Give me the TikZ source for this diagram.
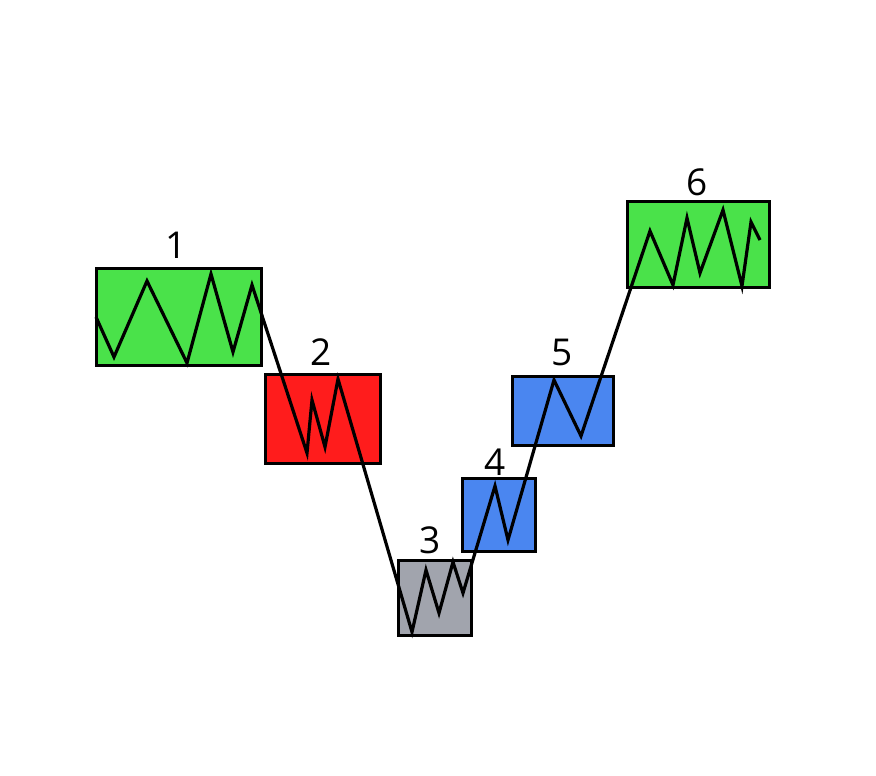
\documentclass[tikz,border=0pt]{standalone}
\usepackage{fontspec}
\setmainfont{Open Sans}
\usepackage{tikz}
\usetikzlibrary{positioning}
\definecolor{verde}{HTML}{4AE24A}
\definecolor{rojo}{HTML}{FF1C1C}
\definecolor{gris}{HTML}{A1A4AD}
\definecolor{azul}{HTML}{4A86F0}

\begin{document}
\begin{tikzpicture}[
  x=1pt, y=-1pt,
  caja/.style={draw=black, line width=3pt, inner sep=0pt},
  num/.style={font=\fontsize{37}{37}\selectfont, inner sep=0pt},
  zigzag/.style={line width=3.2pt, line join=miter, black}
]
  \useasboundingbox (0,0) rectangle (876,776);
  % cajas
  \node[caja, fill=verde, minimum width=165pt, minimum height=97pt] (b1) at (178.5,316.5) {};
  \node[caja, fill=rojo,  minimum width=115pt, minimum height=89pt] (b2) at (322.5,418.5) {};
  \node[caja, fill=gris,  minimum width=73pt,  minimum height=75pt] (b3) at (434.5,597.5) {};
  \node[caja, fill=azul,  minimum width=73pt,  minimum height=73pt] (b4) at (498.5,514.5) {};
  \node[caja, fill=azul,  minimum width=101pt, minimum height=69pt] (b5) at (563,410.5) {};
  \node[caja, fill=verde, minimum width=142pt, minimum height=86pt] (b6) at (698,244) {};
  % numeros
  \node[num] (n1) at (176,245) {1};
  \node[num] (n2) at (321,352) {2};
  \node[num] (n3) at (430,540) {3};
  \node[num] (n4) at (495,462) {4};
  \node[num] (n5) at (562,352) {5};
  \node[num] (n6) at (697,182) {6};
  % linea
  \draw[zigzag] (96,317) -- (114,357) -- (147,281) -- (187,363) -- (211,274)
    -- (233,352) -- (252,285) -- (307,453) -- (312,400) -- (325,447)
    -- (338,379) -- (412,632) -- (426,570) -- (439,613) -- (453,562)
    -- (463,593) -- (495,486) -- (508,540) -- (554,380) -- (581,436)
    -- (650,231) -- (673,285) -- (687,218) -- (700,273) -- (723,210)
    -- (742,286) -- (751,222) -- (760,240);
\end{tikzpicture}
\end{document}
